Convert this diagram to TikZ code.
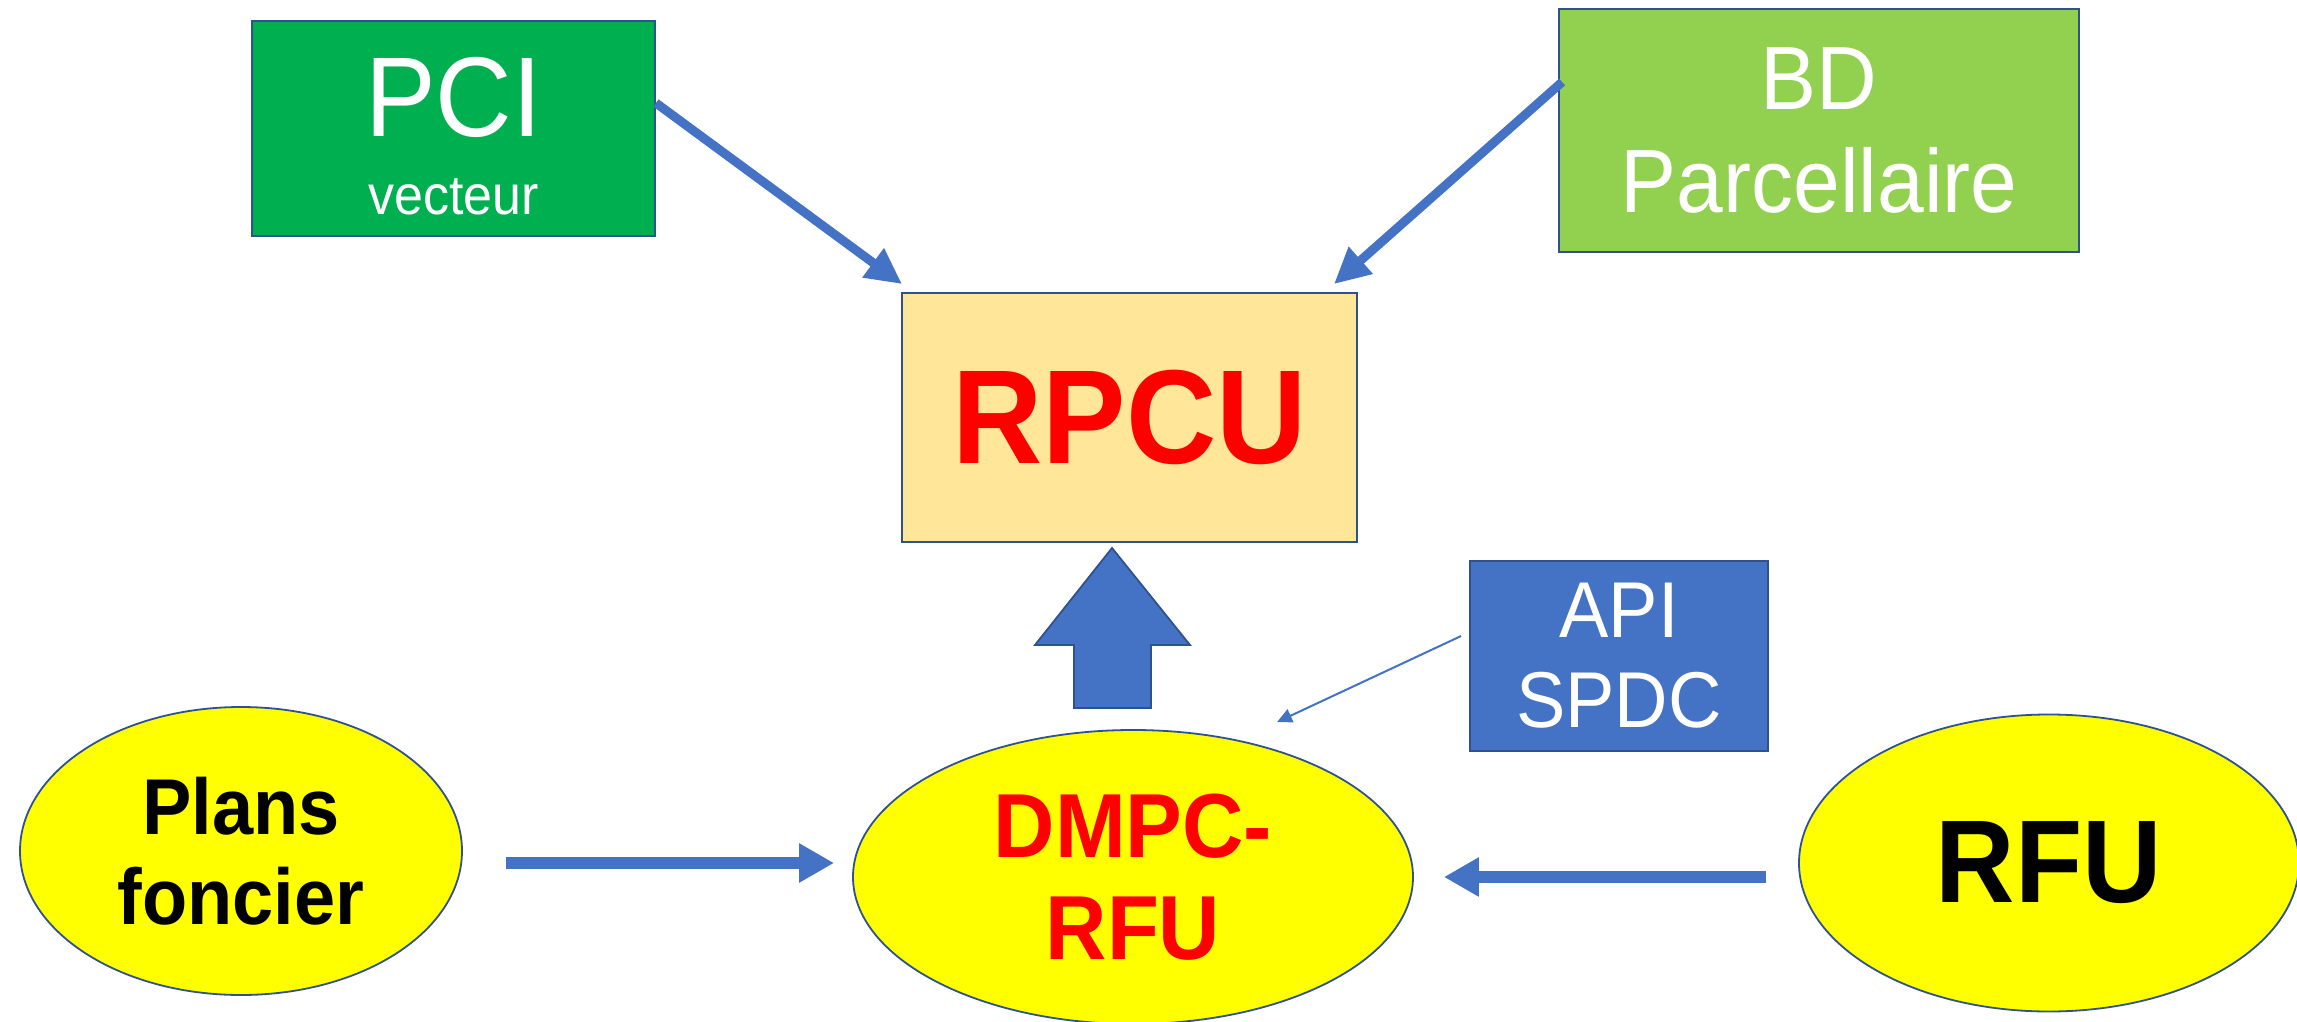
\documentclass[tikz,border=0pt]{standalone}
\usepackage{fontspec}
\usepackage{graphicx}
\setmainfont{Liberation Sans}
\usetikzlibrary{arrows.meta,shapes.geometric,calc}
\definecolor{arrowblue}{HTML}{4472C4}
\definecolor{edgeblue}{HTML}{2F528F}
\definecolor{pcigreen}{HTML}{00B050}
\definecolor{bdgreen}{HTML}{92D050}
\definecolor{rpcugold}{HTML}{FFE699}
\definecolor{ellyellow}{HTML}{FFFF00}
\definecolor{txtred}{HTML}{FF0000}
\newcommand\vst[1]{\scalebox{1}[1.07]{#1}}
\tikzset{
  boxnode/.style={draw=edgeblue, line width=0.9pt, rectangle, inner sep=0pt, align=center},
  ellnode/.style={draw=edgeblue, line width=0.9pt, ellipse, fill=ellyellow, inner sep=0pt, align=center},
  fatarrow/.style={draw=arrowblue, line width=4.5pt, -{Triangle[length=18pt,width=17pt]}},
  flatarrow/.style={draw=arrowblue, line width=6.3pt, -{Triangle[length=17.5pt,width=18.5pt]}},
  thinarrow/.style={draw=arrowblue, line width=1pt, -{Triangle[length=7.5pt,width=7pt]}},
  blockarrow/.style={draw=edgeblue, line width=0.9pt, fill=arrowblue, line join=miter}
}
\begin{document}
\begin{tikzpicture}[x=0.5pt,y=-0.5pt]
\useasboundingbox (0,0) rectangle (2297,1022);

% boxes
\node[boxnode, fill=pcigreen, minimum width=201.5pt, minimum height=107.5pt] (pci) at (453.5,128.5) {};
\node[text=white, align=center, inner sep=0pt, font=\fontsize{53}{39}\selectfont] (pcitext) at (453.5,136) {\vst{PCI}\\{\fontsize{26}{39}\selectfont\vst{vecteur}}};

\node[boxnode, fill=bdgreen, text=white, minimum width=260pt, minimum height=121.5pt,
      font=\fontsize{42}{51.5}\selectfont] (bd) at (1819,130.5) {\vst{BD}\\\vst{Parcellaire}};

\node[boxnode, fill=rpcugold, text=txtred, minimum width=227.5pt, minimum height=124.5pt,
      font=\bfseries\fontsize{62.5}{70}\selectfont] (rpcu) at (1129.5,417.5) {\vst{RPCU}};

\node[boxnode, fill=arrowblue, text=white, minimum width=149pt, minimum height=95pt,
      font=\fontsize{37}{45}\selectfont] (api) at (1619,656) {\vst{API}\\\vst{SPDC}};

% ellipses
\node[ellnode, minimum width=221pt, minimum height=144pt,
      font=\bfseries\fontsize{37}{45}\selectfont] (plans) at (241,851) {\vst{Plans}\\\vst{foncier}};
\node[ellnode, text=txtred, minimum width=280pt, minimum height=147pt,
      font=\bfseries\fontsize{42.5}{51}\selectfont] (dmpc) at (1133,877) {\vst{DMPC-}\\\vst{RFU}};
\node[ellnode, minimum width=250pt, minimum height=148.5pt,
      font=\bfseries\fontsize{55}{66}\selectfont] (rfu) at (2049,863) {\vst{RFU}};

% connectors
\draw[fatarrow] ($(pci.east)+(0,-25.5)$) -- ($(rpcu.north west)+(1,-8)$);
\draw[fatarrow] ($(bd.west)+(4,-48.5)$) -- ($(rpcu.north east)+(-24,-8)$);
\draw[flatarrow] ($(plans.east)+(43,12)$) -- ($(dmpc.west)+(-18,-14)$);
\draw[flatarrow] ($(rfu.west)+(-32,14)$) -- ($(dmpc.east)+(30,0)$);
\draw[thinarrow] ($(api.west)+(-8,-20)$) -- ($(dmpc.north)+(144,-7)$);

% block arrow from DMPC-RFU up to RPCU
\draw[blockarrow] (1074,708) -- (1074,645) -- (1035,645) -- (1112,548) -- (1190,645) -- (1151,645) -- (1151,708) -- cycle;
\end{tikzpicture}
\end{document}
